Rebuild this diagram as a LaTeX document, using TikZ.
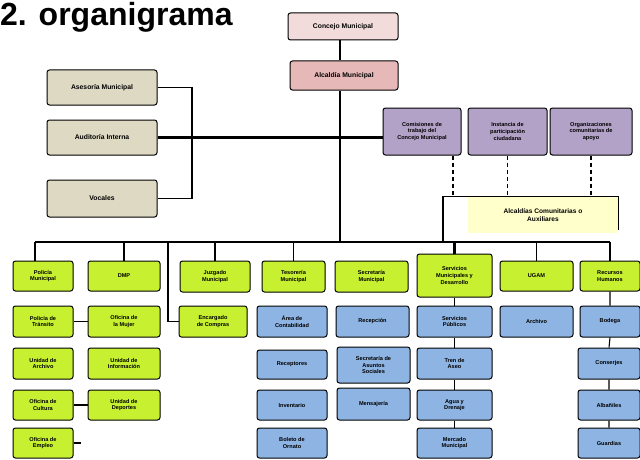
\documentclass[tikz,border=0pt]{standalone}
\usepackage{fontspec}
\setmainfont{Liberation Sans}
\setsansfont{Liberation Sans}
\definecolor{pinkA}{RGB}{242,220,219}
\definecolor{pinkB}{RGB}{230,185,184}
\definecolor{beigeC}{RGB}{221,217,195}
\definecolor{purpC}{RGB}{179,162,199}
\definecolor{limeC}{RGB}{198,240,48}
\definecolor{blueC}{RGB}{142,180,227}
\definecolor{yelC}{RGB}{255,255,204}
\tikzset{
  box/.style={draw=black, line width=1pt, rounded corners=2.5pt, inner sep=1pt, align=center,
    font=\fontsize{5.6}{6.6}\selectfont\bfseries},
  bigtxt/.style={font=\fontsize{6.8}{8}\selectfont\bfseries},
  pkA/.style={box, fill=pinkA, bigtxt},
  pkB/.style={box, fill=pinkB, bigtxt},
  bge/.style={box, fill=beigeC, bigtxt},
  prp/.style={box, fill=purpC},
  grn/.style={box, fill=limeC},
  blu/.style={box, fill=blueC},
  ylw/.style={fill=yelC, align=center, inner sep=1pt, font=\fontsize{6.6}{8}\selectfont\bfseries},
  bar/.style={line width=2.6pt},
  thinline/.style={line width=1.1pt},
  dashline/.style={line width=1.1pt, dash pattern=on 4pt off 3pt},
}
\newcommand\bx[7]{%
  \pgfmathsetmacro\bxw{#4-#2}\pgfmathsetmacro\bxh{#5-#3}%
  \pgfmathsetmacro\bxx{(#2+#4)/2}\pgfmathsetmacro\bxy{(#3+#5)/2}%
  \node[#6, minimum width=\bxw pt, minimum height=\bxh pt] (#1) at (\bxx,\bxy) {#7};}
\begin{document}
\begin{tikzpicture}[x=1pt,y=-1pt]
\useasboundingbox (0,0) rectangle (640,460);
\node[anchor=west, inner sep=0, font=\fontsize{32}{32}\selectfont\bfseries] (title) at (0,17) {2. organigrama};
% top
\bx{conc}{288}{13}{398}{40}{pkA}{Concejo Municipal}
\bx{alc}{290}{61}{398}{90}{pkB}{Alcaldía Municipal}
% left advisers
\bx{as1}{47}{70}{157}{105}{bge}{Asesoría Municipal}
\bx{as2}{47}{120}{157}{155}{bge}{Auditoría Interna}
\bx{as3}{47}{180}{157}{217}{bge}{Vocales}
% purple
\bx{p1}{383}{108}{461}{155}{prp}{Comisiones de\\trabajo del\\Concejo Municipal}
\bx{p2}{468}{108}{547}{155}{prp}{Instancia de\\participación\\ciudadana}
\bx{p3}{550}{108}{632}{155}{prp}{Organizaciones\\comunitarias de\\apoyo}
\bx{yel}{468}{197}{618}{233}{ylw}{Alcaldías Comunitarias o\\Auxiliares}
% first level
\bx{g1}{13}{261}{73}{291}{grn}{Policía\\Municipal}
\bx{g2}{88}{261}{160}{291}{grn}{DMP}
\bx{g3}{180}{261}{250}{292}{grn}{Juzgado\\Municipal}
\bx{g4}{262}{261}{325}{292}{grn}{Tesorería\\Municipal}
\bx{g5}{335}{261}{408}{292}{grn}{Secretaría\\Municipal}
\bx{g6}{417}{254}{492}{297}{grn}{Servicios\\Municipales y\\Desarrollo}
\bx{g7}{500}{261}{573}{291}{grn}{UGAM}
\bx{g8}{580}{261}{640}{291}{grn}{Recursos\\Humanos}
% row 2
\bx{a1}{13}{306}{73}{337}{grn}{Policía de\\Tránsito}
\bx{a2}{88}{306}{160}{337}{grn}{Oficina de\\la Mujer}
\bx{a3}{179}{306}{247}{337}{grn}{Encargado\\de Compras}
\bx{b4}{257}{306}{327}{337}{blu}{Área de\\Contabilidad}
\bx{b5}{336}{306}{409}{337}{blu}{Recepción}
\bx{b6}{417}{306}{492}{337}{blu}{Servicios\\Públicos}
\bx{b7}{500}{306}{573}{337}{blu}{Archivo}
\bx{b8}{580}{306}{640}{337}{blu}{Bodega}
% row 3
\bx{c1}{13}{348}{73}{379}{grn}{Unidad de\\Archivo}
\bx{c2}{88}{348}{160}{379}{grn}{Unidad de\\Información}
\bx{c4}{257}{350}{327}{379}{blu}{Receptores}
\bx{c5}{337}{347}{410}{383}{blu}{Secretaría de\\Asuntos\\Sociales}
\bx{c6}{417}{348}{492}{379}{blu}{Tren de\\Aseo}
\bx{c8}{578}{348}{640}{379}{blu}{Conserjes}
% row 4
\bx{d1}{13}{390}{73}{420}{grn}{Oficina de\\Cultura}
\bx{d2}{88}{390}{160}{420}{grn}{Unidad de\\Deportes}
\bx{d4}{257}{390}{327}{420}{blu}{Inventario}
\bx{d5}{337}{388}{410}{420}{blu}{Mensajería}
\bx{d6}{417}{390}{492}{420}{blu}{Agua y\\Drenaje}
\bx{d8}{578}{390}{640}{420}{blu}{Albañiles}
% row 5
\bx{e1}{13}{428}{73}{458}{grn}{Oficina de\\Empleo}
\bx{e4}{257}{428}{327}{458}{blu}{Boleto de\\Ornato}
\bx{e6}{417}{428}{492}{458}{blu}{Mercado\\Municipal}
\bx{e8}{578}{428}{640}{458}{blu}{Guardias}
% coordinates
\coordinate (tx) at (340,0);
\coordinate (busL) at (35,242);
\coordinate (busR) at (610,242);
\coordinate (bk) at (192,0);
\coordinate (kx) at (168,242);
\coordinate (dz) at (453,0);
\coordinate (yl) at (443,242);
% connectors
\draw[bar] (tx |- conc.south) -- (tx |- alc.north);
\draw[bar] (tx |- alc.south) -- (tx |- busL);
\draw[bar] (busL) -- (busR);
\draw[bar] (busL) -- (busL |- g1.north);
\draw[thinline] (g2.north |- busL) -- (g2.north);
\draw[bar] (g3.north |- busL) -- (g3.north);
\draw[thinline] (g4.north |- busL) -- (g4.north);
\draw[bar] (g6.north |- busL) -- (g6.north);
\draw[thinline] (g7.north |- busL) -- (g7.north);
\draw[bar] (busR) -- (g8.north);
\draw[thinline] (kx) -- (kx |- a3.west) -- (a3.west);
\draw[thinline] (as1.east) -- (bk |- as1.east) -- (bk |- as3.east) -- (as3.east);
\draw[bar] (as2.east) -- (p1.west |- as2.east);
\draw[dashline] (dz |- p1.south) -- (dz |- yel.north);
\draw[dashline] (p2.south) -- (p2.south |- yel.north);
\draw[dashline] (p3.south) -- (p3.south |- yel.north);
\draw[thinline] (yl) -- (yl |- yel.north) -- (yel.north east) -- ([yshift=3pt]yel.south east);
\draw[thinline] (a1.east) -- (a2.west);
\draw[thinline] (d1.east) -- (d2.west);
\draw[thinline] (e1.east) -- ++(7,0);
\draw[thinline] (g6.south) -- (b6.north) (b6.south) -- (c6.north) (c6.south) -- (d6.north) (d6.south) -- (e6.north);
\draw[thinline] (g8.south) -- (b8.north) (b8.south) -- (c8.north) (c8.south) -- (d8.north) (d8.south) -- (e8.north);
\end{tikzpicture}
\end{document}
